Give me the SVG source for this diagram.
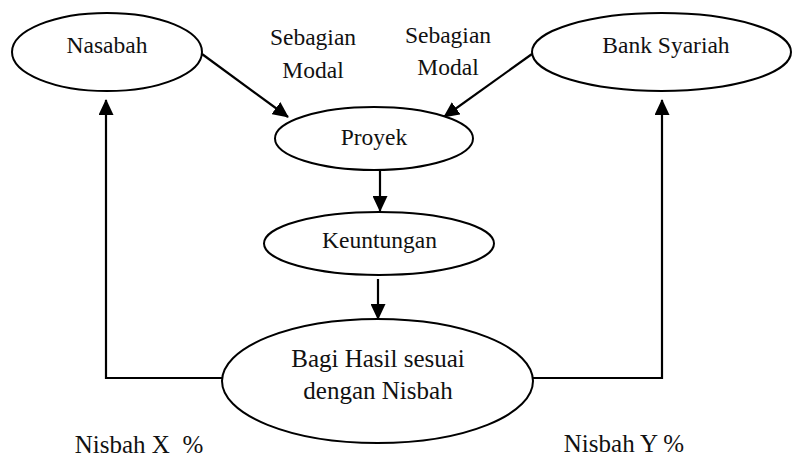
<svg xmlns="http://www.w3.org/2000/svg" width="792" height="457" viewBox="0 0 792 457">
  <style>
    .node ellipse { fill: #fff; stroke: #000; stroke-width: 2; }
    .lbl { font-family: "Times New Roman", "Liberation Serif", Tinos, "DejaVu Serif", serif; font-size: 23.5px; fill: #111; text-anchor: middle; }
    .big { font-size: 25px; }
    .edge { fill: none; stroke: #000; stroke-width: 2.2; }
  </style>
  <defs>
    <marker id="arrow" markerUnits="userSpaceOnUse" viewBox="0 0 16 15" markerWidth="16" markerHeight="15" refX="15" refY="7.5" orient="auto">
      <path d="M0,0 L16,7.5 L0,15 z" fill="#000"/>
    </marker>
  </defs>

  <rect width="792" height="457" fill="#fff"/>

  <g id="connectors">
    <line class="edge" x1="202" y1="54" x2="288" y2="117" marker-end="url(#arrow)"/>
    <line class="edge" x1="532" y1="54" x2="444" y2="117" marker-end="url(#arrow)"/>
    <line class="edge" x1="380" y1="170" x2="380" y2="211" marker-end="url(#arrow)"/>
    <line class="edge" x1="378" y1="279" x2="378" y2="319" marker-end="url(#arrow)"/>
    <polyline class="edge" points="222,378 106,378 106,100" marker-end="url(#arrow)"/>
    <polyline class="edge" points="533,378 662,378 662,100" marker-end="url(#arrow)"/>
  </g>

  <g id="labels">
    <text class="lbl" x="313" y="45">Sebagian</text>
    <text class="lbl" x="313" y="78">Modal</text>
    <text class="lbl" x="448" y="43">Sebagian</text>
    <text class="lbl" x="448" y="75">Modal</text>
    <text class="lbl big" x="139" y="453" xml:space="preserve">Nisbah X  %</text>
    <text class="lbl big" x="624" y="452">Nisbah Y %</text>
  </g>

  <g id="nasabah" class="node">
    <ellipse cx="107" cy="52" rx="95" ry="39"/>
    <text class="lbl" x="107" y="53">Nasabah</text>
  </g>

  <g id="bank-syariah" class="node">
    <ellipse cx="661.5" cy="52" rx="129.5" ry="39"/>
    <text class="lbl" x="666" y="53">Bank Syariah</text>
  </g>

  <g id="proyek" class="node">
    <ellipse cx="374" cy="138.5" rx="99" ry="31.5"/>
    <text class="lbl" x="374" y="145">Proyek</text>
  </g>

  <g id="keuntungan" class="node">
    <ellipse cx="379" cy="243.5" rx="115" ry="31.5"/>
    <text class="lbl" x="379.5" y="248">Keuntungan</text>
  </g>

  <g id="bagi-hasil" class="node">
    <ellipse cx="377.5" cy="381" rx="155.5" ry="62"/>
    <text class="lbl big" x="378" y="367">Bagi Hasil sesuai</text>
    <text class="lbl big" x="378" y="399">dengan Nisbah</text>
  </g>
</svg>
